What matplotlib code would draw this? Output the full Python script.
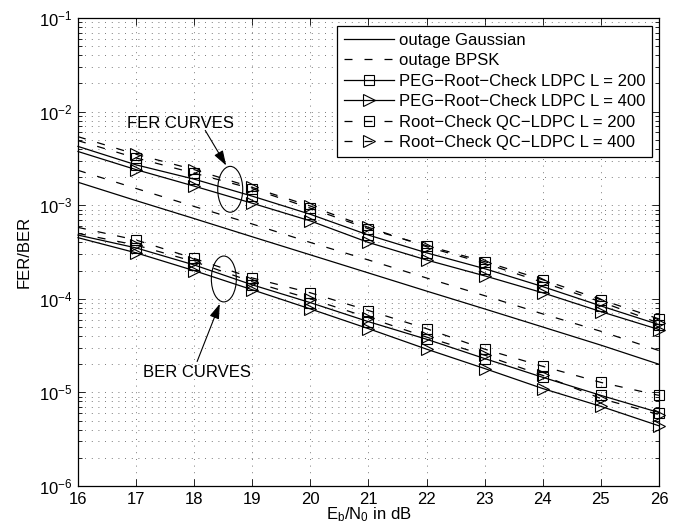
import numpy as np
import matplotlib
matplotlib.use('Agg')
import matplotlib.pyplot as plt
from matplotlib.patches import Ellipse
from matplotlib.ticker import LogLocator, NullLocator, NullFormatter

# ==========================================
# DATA
# ==========================================
ebn0 = [16, 17, 18, 19, 20, 21, 22, 23, 24, 25, 26]

fer_out_gauss = [1.76e-3, 1.12e-3, 7.2e-4, 4.6e-4, 2.95e-4, 1.89e-4, 1.21e-4, 7.8e-5, 5.0e-5, 3.2e-5, 2.0e-5]
fer_out_bpsk  = [2.36e-3, 1.51e-3, 9.7e-4, 6.3e-4, 4.0e-4, 2.6e-4, 1.67e-4, 1.08e-4, 6.9e-5, 4.5e-5, 2.8e-5]

fer_peg200 = [4.25e-3, 2.7e-3, 1.9e-3, 1.25e-3, 8.0e-4, 4.8e-4, 3.1e-4, 2.1e-4, 1.35e-4, 8.4e-5, 5.3e-5]
fer_peg400 = [3.75e-3, 2.4e-3, 1.6e-3, 1.05e-3, 6.8e-4, 4.0e-4, 2.6e-4, 1.76e-4, 1.16e-4, 7.3e-5, 4.7e-5]
fer_qc200  = [4.9e-3, 3.2e-3, 2.2e-3, 1.5e-3, 9.3e-4, 5.6e-4, 3.7e-4, 2.5e-4, 1.6e-4, 9.8e-5, 6.1e-5]
fer_qc400  = [5.4e-3, 3.5e-3, 2.4e-3, 1.55e-3, 9.8e-4, 5.8e-4, 3.6e-4, 2.4e-4, 1.5e-4, 9.3e-5, 5.5e-5]

ber_peg200 = [4.8e-4, 3.5e-4, 2.3e-4, 1.41e-4, 9.1e-5, 5.7e-5, 3.7e-5, 2.3e-5, 1.45e-5, 9.3e-6, 6.1e-6]
ber_peg400 = [4.5e-4, 3.1e-4, 2.0e-4, 1.25e-4, 7.8e-5, 4.8e-5, 2.9e-5, 1.8e-5, 1.1e-5, 7.1e-6, 4.4e-6]
ber_qc200  = [5.8e-4, 4.25e-4, 2.7e-4, 1.67e-4, 1.16e-4, 7.5e-5, 4.8e-5, 2.9e-5, 1.9e-5, 1.28e-5, 9.3e-6]
ber_qc400  = [5.0e-4, 3.75e-4, 2.5e-4, 1.52e-4, 1.0e-4, 6.3e-5, 3.9e-5, 2.5e-5, 1.52e-5, 8.6e-6, 5.8e-6]

labels = ['outage Gaussian', 'outage BPSK',
          'PEG\u2212Root\u2212Check LDPC L = 200', 'PEG\u2212Root\u2212Check LDPC L = 400',
          'Root\u2212Check QC\u2212LDPC L = 200', 'Root\u2212Check QC\u2212LDPC L = 400']

# annotation anchors (data coords)
fer_ell = (18.62, 1.48e-3)
ber_ell = (18.51, 1.63e-4)

# ==========================================
# STYLE
# ==========================================
plt.rcParams['font.family'] = ['Liberation Sans', 'DejaVu Sans']
plt.rcParams['mathtext.fontset'] = 'custom'
plt.rcParams['mathtext.rm'] = 'Liberation Sans'
plt.rcParams['mathtext.it'] = 'Liberation Sans:italic'

LW = 0.9
DASH = (0, (6.4, 9.6))
GRID = (0, (1, 7))

fig = plt.figure(figsize=(6.79, 5.23), dpi=100)
ax = fig.add_axes([0.1149, 0.0707, 0.8556, 0.8948])

mk_every = list(range(1, len(ebn0)))
sq = dict(marker='s', ms=7, mfc='none', mec='k', mew=0.8, markevery=mk_every, clip_on=False)
tri = dict(marker='>', ms=9, mfc='none', mec='k', mew=0.8, markevery=mk_every, clip_on=False)

h_gauss, = ax.semilogy(ebn0, fer_out_gauss, color='k', lw=LW, ls='-')
h_bpsk, = ax.semilogy(ebn0, fer_out_bpsk, color='k', lw=LW, ls=DASH)

h_peg200, = ax.semilogy(ebn0, fer_peg200, color='k', lw=LW, ls='-', **sq)
h_peg400, = ax.semilogy(ebn0, fer_peg400, color='k', lw=LW, ls='-', **tri)
h_qc200, = ax.semilogy(ebn0, fer_qc200, color='k', lw=LW, ls=DASH, **sq)
h_qc400, = ax.semilogy(ebn0, fer_qc400, color='k', lw=LW, ls=DASH, **tri)

ax.semilogy(ebn0, ber_peg200, color='k', lw=LW, ls='-', **sq)
ax.semilogy(ebn0, ber_peg400, color='k', lw=LW, ls='-', **tri)
ax.semilogy(ebn0, ber_qc200, color='k', lw=LW, ls=DASH, **sq)
ax.semilogy(ebn0, ber_qc400, color='k', lw=LW, ls=DASH, **tri)

ax.set_xlim(16, 26)
ax.set_ylim(1e-6, 1e-1)
ax.set_xticks(ebn0)
ax.xaxis.set_minor_locator(NullLocator())
ax.yaxis.set_major_locator(LogLocator(base=10, numticks=10))
ax.yaxis.set_minor_locator(LogLocator(base=10, subs=np.arange(2, 10), numticks=20))
ax.yaxis.set_minor_formatter(NullFormatter())

ax.grid(which='major', ls=GRID, lw=0.6, color='0.3')
ax.grid(which='minor', axis='y', ls=GRID, lw=0.6, color='0.3')
ax.set_axisbelow(True)

ax.tick_params(which='both', direction='in', top=True, right=True, width=0.6, labelsize=12)
ax.tick_params(which='major', length=5)
ax.tick_params(which='minor', length=3)
ax.tick_params(axis='x', pad=4)
ax.tick_params(axis='y', pad=4)
for s in ax.spines.values():
    s.set_linewidth(0.9)

ax.set_xlabel(r'E$_\mathregular{b}$/N$_\mathregular{0}$ in dB', fontsize=12, labelpad=-1)
ax.set_ylabel('FER/BER', fontsize=12, labelpad=5)

leg = ax.legend([h_gauss, h_bpsk, h_peg200, h_peg400, h_qc200, h_qc400], labels,
                loc='upper right', bbox_to_anchor=(0.988, 0.983), fontsize=12,
                handlelength=3.0, handletextpad=0.3, labelspacing=0.33, borderpad=0.4,
                borderaxespad=0, fancybox=False, framealpha=1, edgecolor='k')
leg.get_frame().set_linewidth(0.9)

# ==========================================
# ANNOTATIONS (ellipses + arrows)
# ==========================================
def data_to_axes(pt):
    return ax.transAxes.inverted().transform(ax.transData.transform(pt))

for c in (fer_ell, ber_ell):
    ax.add_patch(Ellipse(data_to_axes(c), 0.043, 0.098, transform=ax.transAxes,
                         fill=False, ec='k', lw=0.8))

arrow = dict(arrowstyle='-|>,head_length=0.9,head_width=0.3', color='k', lw=0.8,
             shrinkA=0, shrinkB=0)
ax.annotate('', xy=(18.55, 2.66e-3), xytext=(18.19, 6.3e-3), arrowprops=arrow)
ax.text(17.77, 7.45e-3, 'FER CURVES', fontsize=12, ha='center', va='center')
ax.annotate('', xy=(18.44, 8.85e-5), xytext=(18.05, 2.14e-5), arrowprops=arrow)
ax.text(18.04, 1.63e-5, 'BER CURVES', fontsize=12, ha='center', va='center')

fig.savefig('out.png', dpi=100)
